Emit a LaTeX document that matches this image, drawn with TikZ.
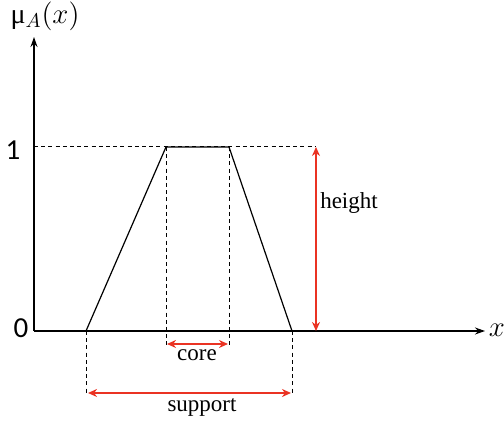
\documentclass[tikz,border=0pt]{standalone}
\usepackage{fontspec}
\setmainfont{Liberation Serif}
\newfontfamily\digitfont{Carlito}
\usepackage{tikz}
\usetikzlibrary{arrows.meta}
\definecolor{markRed}{RGB}{234,51,35}

\begin{document}
\begin{tikzpicture}[x=0.5pt,y=-0.5pt,
    ax/.style={-{Stealth[length=5pt,width=3.5pt]},line width=0.6pt},
    guide/.style={line width=0.5pt,dash pattern=on 2pt off 1.6pt},
    dim/.style={{Stealth[length=4.5pt,width=4pt]}-{Stealth[length=4.5pt,width=4pt]},
                draw=markRed,line width=1pt},
    lbl/.style={font=\fontsize{11.5}{13}\selectfont,inner sep=1pt},
    big/.style={font=\fontsize{14}{16}\selectfont,inner sep=1pt},
    tick/.style={font=\digitfont\fontsize{14.5}{16}\selectfont,inner sep=1pt}]
  \useasboundingbox (0,0) rectangle (504,421);
  % axes
  \coordinate (o) at (34,331);
  \coordinate (ytip) at (34,37);
  \coordinate (xtip) at (485,331);
  \draw[ax] (o) -- (ytip);
  \draw[ax] (o) -- (xtip);
  \node[big] (mu) at (45,16) {μ$_{A}(x)$};
  \node[big] (xl) at (497,330) {$x$};
  \node[tick] (one) at (13,150) {1};
  \node[tick] (zero) at (21,328) {0};
  % trapezoid
  \coordinate (a) at (86,331);
  \coordinate (b) at (166,147);
  \coordinate (c) at (229,147);
  \coordinate (d) at (292,331);
  \coordinate (y1) at (34,147);
  \coordinate (hr) at (316,147);
  \draw[guide] (y1) -- (hr);
  \draw[line width=0.6pt] (a) -- (b) -- (c) -- (d);
  % core
  \coordinate (cl) at (166,345);
  \coordinate (cr) at (229,345);
  \draw[guide] (b) -- (cl);
  \draw[guide] (c) -- (cr);
  \coordinate (k1) at (167,344);
  \coordinate (k2) at (228,344);
  \draw[dim] (k1) -- (k2);
  \node[lbl] (core) at (197,355) {core};
  % support
  \coordinate (sl) at (86,394);
  \coordinate (sr) at (292,394);
  \draw[guide] (a) -- (sl);
  \draw[guide] (d) -- (sr);
  \coordinate (s1) at (88,393);
  \coordinate (s2) at (291,393);
  \draw[dim] (s1) -- (s2);
  \node[lbl] (supp) at (202,407) {support};
  % height
  \coordinate (h0) at (316,331);
  \draw[dim] (hr) -- (h0);
  \node[lbl] (hgt) at (349,203) {height};
\end{tikzpicture}
\end{document}
